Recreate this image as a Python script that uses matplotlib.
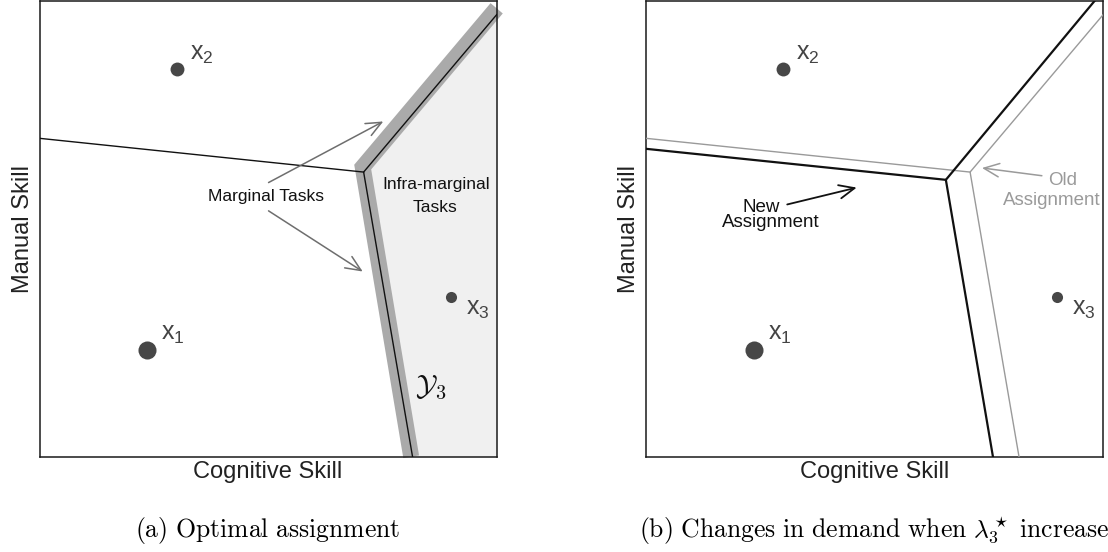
import matplotlib
matplotlib.use("Agg")
import matplotlib.pyplot as plt

plt.rcParams['font.family'] = ['Liberation Sans', 'DejaVu Sans']
plt.rcParams['mathtext.fontset'] = 'cm'

# workers (skill bundles), same in both panels
worker_x = [2.36, 3.0, 9.0]
worker_y = [2.35, 8.5, 3.5]
worker_labels = [r'$\mathregular{x_1}$', r'$\mathregular{x_2}$', r'$\mathregular{x_3}$']

# old assignment boundaries (panel a, grey in panel b)
old_b12_x = [0.0, 7.09]
old_b12_y = [6.98, 6.24]
old_b3_x = [8.16, 7.09, 10.0]
old_b3_y = [0.0, 6.24, 9.69]

# marginal task band around region 3
band_x = [8.13, 7.07, 10.0]
band_y = [0.0, 6.35, 9.83]

# new assignment boundaries (panel b)
new_b12_x = [0.0, 6.56]
new_b12_y = [6.75, 6.07]
new_b3_x = [7.59, 6.56, 9.82]
new_b3_y = [0.0, 6.07, 10.0]

fig = plt.figure(figsize=(11.08, 5.52), dpi=100)
ax1 = fig.add_axes([0.03565, 0.1726, 0.4126, 0.8264])
ax2 = fig.add_axes([0.5830, 0.1726, 0.4126, 0.8264])

dot_sizes = [13, 10, 8]
dot_col = '#474747'

for ax in (ax1, ax2):
    ax.set_xlim(0, 10)
    ax.set_ylim(0, 10)
    ax.set_xticks([])
    ax.set_yticks([])
    for sp in ax.spines.values():
        sp.set_linewidth(1.1)
        sp.set_color('#1a1a1a')
    ax.set_xlabel('Cognitive Skill', fontsize=17, labelpad=3, color='#222222')
    ax.set_ylabel('Manual Skill', fontsize=17, labelpad=4, color='#222222')
    for i in range(3):
        ax.plot(worker_x[i], worker_y[i], 'o', ms=dot_sizes[i], color=dot_col, mec='none', zorder=5)
    # labels: x1, x2 upper right; x3 lower right
    ax.text(worker_x[0] + 0.30, worker_y[0] + 0.21, worker_labels[0], fontsize=18, color='#444444', va='baseline')
    ax.text(worker_x[1] + 0.29, worker_y[1] + 0.20, worker_labels[1], fontsize=18, color='#444444', va='baseline')
    ax.text(worker_x[2] + 0.33, worker_y[2] - 0.39, worker_labels[2], fontsize=18, color='#444444', va='baseline')

# ---- panel (a)
ax1.fill(old_b3_x + [10.0], old_b3_y + [0.0], color='#f0f0f0', lw=0, zorder=0)
ax1.plot(band_x, band_y, color='#aaaaaa', lw=11.5, solid_capstyle='butt',
         solid_joinstyle='miter', clip_on=False, zorder=2)
ax1.plot(old_b12_x, old_b12_y, color='#111111', lw=1.0, zorder=3)
ax1.plot(old_b3_x, old_b3_y, color='#111111', lw=1.0, zorder=3)

ax1.text(4.96, 5.61, 'Marginal Tasks', fontsize=12.5, ha='center', va='baseline', color='#111111')
ax1.text(8.68, 5.86, 'Infra-marginal', fontsize=12.5, ha='center', va='baseline', color='#111111')
ax1.text(8.66, 5.36, 'Tasks', fontsize=12.5, ha='center', va='baseline', color='#111111')
arr = dict(arrowstyle='->,head_length=0.5,head_width=0.22', color='#6e6e6e', lw=1.1,
           shrinkA=0, shrinkB=0, mutation_scale=22)
ax1.annotate('', xy=(7.52, 7.35), xytext=(5.01, 6.01), arrowprops=arr)
ax1.annotate('', xy=(7.07, 4.06), xytext=(5.01, 5.39), arrowprops=arr)
ax1.text(8.22, 1.35, r'$\mathcal{Y}_\mathbf{3}$', fontsize=21, va='baseline', color='#111111')

# ---- panel (b)
ax2.plot(old_b12_x, old_b12_y, color='#9a9a9a', lw=1.0, zorder=3)
ax2.plot(old_b3_x, old_b3_y, color='#9a9a9a', lw=1.0, zorder=3)
ax2.plot(new_b12_x, new_b12_y, color='#111111', lw=1.6, zorder=4)
ax2.plot(new_b3_x, new_b3_y, color='#111111', lw=1.6, zorder=4)

ax2.text(2.51, 5.37, 'New', fontsize=13.5, ha='center', va='baseline', color='#111111')
ax2.text(2.73, 5.04, 'Assignment', fontsize=13.5, ha='center', va='baseline', color='#111111')
ax2.annotate('', xy=(4.61, 5.90), xytext=(3.09, 5.53),
             arrowprops=dict(arrowstyle='->,head_length=0.5,head_width=0.22', color='#111111',
                             lw=1.3, shrinkA=0, shrinkB=0, mutation_scale=22))
ax2.text(9.11, 5.96, 'Old', fontsize=13.5, ha='center', va='baseline', color='#9a9a9a')
ax2.text(8.88, 5.52, 'Assignment', fontsize=13.5, ha='center', va='baseline', color='#9a9a9a')
ax2.annotate('', xy=(7.35, 6.33), xytext=(8.66, 6.16),
             arrowprops=dict(arrowstyle='->,head_length=0.5,head_width=0.22', color='#9a9a9a',
                             lw=1.1, shrinkA=0, shrinkB=0, mutation_scale=22))

# captions
fig.text(0.2419, 0.027, r'$\mathrm{(a)\ Optimal\ assignment}$', fontsize=18.5, ha='center', va='baseline')
fig.text(0.7893, 0.027, r'$\mathrm{(b)\ Changes\ in\ demand\ when\ }\lambda_3^\star\mathrm{\ increase}$',
         fontsize=18.5, ha='center', va='baseline')

fig.savefig('out.png', dpi=100)
